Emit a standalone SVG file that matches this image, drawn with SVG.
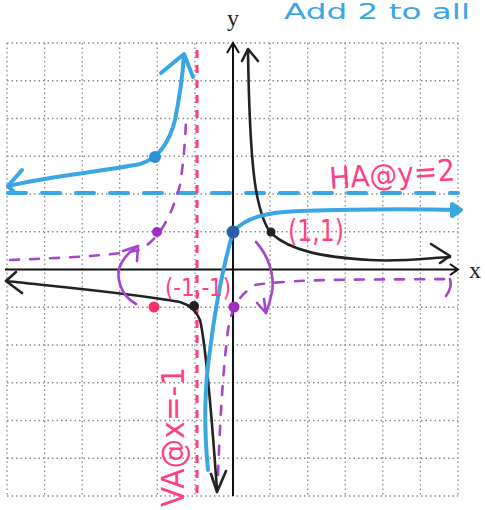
<svg xmlns="http://www.w3.org/2000/svg" width="485" height="510" viewBox="0 0 485 510">
<defs>
<style>
.grid{stroke:#8a8a8a;stroke-width:1.3;stroke-dasharray:1.5 3;fill:none}
.axis{stroke:#111;stroke-width:2;fill:none}
.blk{stroke:#222;stroke-width:2.6;fill:none;stroke-linecap:round;stroke-linejoin:round}
.blu{stroke:#3aa6e4;stroke-width:4;fill:none;stroke-linecap:round;stroke-linejoin:round}
.pur{stroke:#a546c8;stroke-width:2.6;fill:none;stroke-linecap:round;stroke-linejoin:round}
.purd{stroke:#a546c8;stroke-width:2.6;fill:none;stroke-dasharray:9 11;stroke-linecap:round}
.bluedash{stroke:#3aa6e4;stroke-width:4;fill:none;stroke-dasharray:18 16;stroke-linecap:round}
.pinkdash{stroke:#ff3d80;stroke-width:3;fill:none;stroke-dasharray:8 7}
.hand{font-family:"DejaVu Sans","Liberation Sans",sans-serif}
.pinkt{fill:#ff3f86}
.serif{font-family:"Liberation Serif",serif;fill:#222}
</style>
</defs>
<rect width="485" height="510" fill="#fff"/>
<g id="grid" class="grid">
<path d="M7,43V496M44.6,43V496M82.2,43V496M119.7,43V496M157.3,43V496M194.9,43V496M270,43V496M307.7,43V496M345.2,43V496M382.8,43V496M420.4,43V496M458,43V496"/>
<path d="M7,43H458M7,80.75H458M7,118.5H458M7,156.25H458M7,194H458M7,231.75H458M7,307.25H458M7,345H458M7,382.75H458M7,420.5H458M7,458.25H458M7,496H458"/>
</g>
<g id="axes">
<path class="axis" d="M233,496V44M227,53L233,43L239,53"/>
<path class="axis" d="M5,269.5H458M450,264L458,269.5L450,275"/>
<text class="serif" x="227" y="26" font-size="24">y</text>
<text class="serif" x="469" y="278" font-size="24">x</text>
</g>
<g id="connectors">
<g id="asymptotes">
<path class="bluedash" d="M8,193H458"/>
<path class="pinkdash" d="M197,50V496"/>
</g>
<g id="purple-curve">
<path class="purd" d="M10,260C60,258 110,256 140,250C160,238 172,215 180,185C184,160 186,130 186,115"/>
<path class="purd" d="M218,475C220,420 223,370 228,330C232,305 240,295 255,285C300,278 380,280 450,279"/>
<path class="pur" d="M450,279C452,285 449,292 446,296"/>
</g>
<g id="black-curve">
<path class="blk" d="M248,50C249,120 252,175 258,200C262,218 266,228 272,234C290,250 320,257 370,260C400,262 430,258 450,257"/>
<path class="blk" d="M242,61L248,49L258,61"/>
<path class="blk" d="M431,244L450,256L440,263"/>
<path class="blk" d="M6,281C60,287 130,293 180,302C190,305 196,310 200,320C206,345 212,420 217,490"/>
<path class="blk" d="M16,272L6,281L22,293"/>
<path class="blk" d="M211,474L217,492L226,471"/>
</g>
<g id="blue-curve">
<path class="blu" d="M8,186C50,176 100,172 140,164C160,158 170,140 175,120C180,95 183,70 184,55"/>
<path class="blu" d="M161,73L184,54L193,77"/>
<path class="blu" d="M8,186L22,170M8,186L15,193"/>
<path class="blu" d="M208,470C204,430 204,390 210,350C215,310 222,270 233,232C245,218 265,212 300,211C360,209 420,209 460,210"/>
<path class="blu" d="M452,204L461,210L452,216Z" fill="#3aa6e4"/>
</g>
<g id="purple-arrows">
<path class="pur" d="M136,304C120,295 114,275 122,262C126,255 132,250 138,246"/>
<path class="pur" d="M123,251L138,246L137,261"/>
<path class="pur" d="M256,242C268,255 275,275 272,292C270,302 268,308 266,313"/>
<path class="pur" d="M257,303L266,313L264,299"/>
</g>
</g>
<g id="point-neg2-3"><circle cx="155" cy="157" r="6" fill="#2e8fd6"/></g>
<g id="point-0-1-blue"><circle cx="233" cy="232" r="6.5" fill="#2b5ea8"/></g>
<g id="point-1-1"><circle cx="271" cy="232" r="4.5" fill="#222"/></g>
<g id="point-neg1-neg1"><circle cx="194" cy="306" r="5" fill="#222"/></g>
<g id="point-neg2-1"><circle cx="157" cy="232" r="5" fill="#a02cc4"/></g>
<g id="point-0-neg1"><circle cx="234" cy="307" r="5.5" fill="#a02cc4"/></g>
<g id="point-neg2-neg1"><circle cx="154" cy="307" r="5.5" fill="#ff2f6a"/></g>
<g id="labels">
<text class="hand" x="284" y="19" font-size="22" fill="#3aa6e4" textLength="186" lengthAdjust="spacingAndGlyphs">Add 2 to all</text>
<text class="hand pinkt" x="330" y="189" font-size="30" textLength="126" lengthAdjust="spacingAndGlyphs" transform="rotate(-4 330 189)">HA@y=2</text>
<text class="hand pinkt" x="288" y="241" font-size="30" textLength="56" lengthAdjust="spacingAndGlyphs">(1,1)</text>
<text class="hand pinkt" x="165" y="296" font-size="24" textLength="66" lengthAdjust="spacingAndGlyphs">(-1,-1)</text>
<text class="hand pinkt" x="0" y="0" font-size="32" textLength="140" lengthAdjust="spacingAndGlyphs" transform="translate(184,507) rotate(-90)">VA@x=-1</text>
</g>
</svg>
